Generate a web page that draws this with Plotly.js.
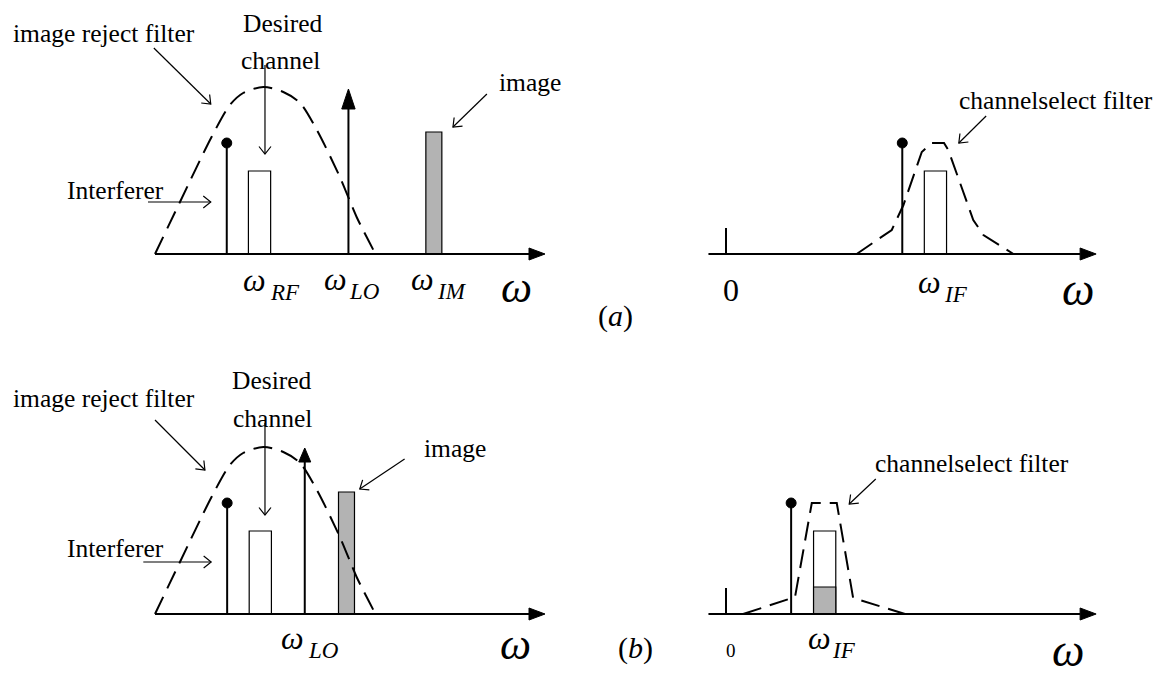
<!DOCTYPE html>
<html><head><meta charset="utf-8">
<script src="https://cdn.plot.ly/plotly-3.0.1.min.js"></script>
<style>html,body{margin:0;padding:0;background:#fff}#chart{width:1163px;height:684px}</style>
</head><body><div id="chart"></div>
<script>
// ---------------- data (arbitrary frequency / amplitude units) ----------------
const rfToneNames = ['Interferer', 'Desired channel', 'LO', 'image'];
const rfToneFreqA = [1.84, 2.68, 4.96, 7.15];
const rfToneAmpA  = [1.11, 0.83, 1.65, 1.22];
const rfToneFreqB = [1.85, 2.70, 3.84, 4.91];
const rfToneAmpB  = [1.11, 0.83, 1.66, 1.22];
const ifToneNames = ['DC', 'Interferer', 'Desired channel'];
const ifToneFreqA = [0, 4.52, 5.37];
const ifToneAmpA  = [0.26, 1.11, 0.83];
const ifToneFreqB = [0, 1.67, 2.53];
const ifToneAmpB  = [0.26, 1.11, 0.83];
const ifImageResidueB = 0.27;
const channelBandwidth = 0.57;
const imageBandwidth = 0.41;
const rejectFilterFreq = [0, 0.64, 1.45, 1.92, 2.26, 2.78, 3.29, 3.72, 4.15, 4.74, 5.17, 5.60];
const rejectFilterGain = [0, 0.52, 1.17, 1.49, 1.61, 1.67, 1.62, 1.51, 1.24, 0.77, 0.37, 0.04];
const selectFilterFreqA = [3.35, 4.25, 4.55, 5.02, 5.27, 5.59, 5.70, 6.34, 6.60, 7.37];
const selectFilterGainA = [0, 0.24, 0.49, 1.02, 1.11, 1.11, 1.04, 0.34, 0.19, 0];
const selectFilterFreqB = [0.44, 1.77, 2.20, 2.84, 3.26, 4.59];
const selectFilterGainB = [0, 0.17, 1.11, 1.11, 0.16, 0];
const rfAxisSpan = [0, 10];
const ifAxisSpan = [-0.45, 9.49];

// ---------------- layout helpers ----------------
const W = 1163, H = 684, KX = 39, KY = 100;
const SERIF = 'Liberation Serif, Times New Roman, serif';
const GRAY = '#b3b3b3';
const panels = [
  {id: '',  ox: 155, oy: 254, px: [0, 580],   py: [0, 342]},
  {id: '2', ox: 726, oy: 254, px: [580, 1163], py: [0, 342]},
  {id: '3', ox: 155, oy: 614, px: [0, 580],   py: [342, 684]},
  {id: '4', ox: 726, oy: 614, px: [580, 1163], py: [342, 684]}
];
const layout = {
  width: W, height: H, margin: {l: 0, r: 0, t: 0, b: 0},
  paper_bgcolor: '#fff', plot_bgcolor: 'rgba(0,0,0,0)',
  showlegend: false, barmode: 'overlay', shapes: [], annotations: []
};
panels.forEach(p => {
  layout['xaxis' + p.id] = {domain: [p.px[0] / W, p.px[1] / W], range: [(p.px[0] - p.ox) / KX, (p.px[1] - p.ox) / KX],
    visible: false, fixedrange: true, anchor: 'y' + p.id};
  layout['yaxis' + p.id] = {domain: [1 - p.py[1] / H, 1 - p.py[0] / H], range: [(p.oy - p.py[1]) / KY, (p.oy - p.py[0]) / KY],
    visible: false, fixedrange: true, anchor: 'x' + p.id};
});
const traces = [];
function ref(id) { return {xref: 'x' + id, yref: 'y' + id}; }
function line(id, x0, y0, x1, y1, w) {
  layout.shapes.push(Object.assign({type: 'line', x0, y0, x1, y1, line: {color: 'black', width: w}}, ref(id)));
}
function head(id, x0, y0, x1, y1, len, hw, filled, w) {
  const dx = (x1 - x0) * KX, dy = (y1 - y0) * KY, L = Math.hypot(dx, dy);
  const ux = dx / L, uy = dy / L;
  const bx = x1 - len * ux / KX, by = y1 - len * uy / KY;
  const p1x = bx - hw * uy / KX, p1y = by + hw * ux / KY;
  const p2x = bx + hw * uy / KX, p2y = by - hw * ux / KY;
  layout.shapes.push(Object.assign({type: 'path',
    path: `M${p1x},${p1y} L${x1},${y1} L${p2x},${p2y}` + (filled ? ' Z' : ''),
    line: {color: 'black', width: w || 1.2}, fillcolor: filled ? 'black' : 'rgba(0,0,0,0)'}, ref(id)));
  return [bx, by];
}
function arrow(id, x0, y0, x1, y1) { line(id, x0, y0, x1, y1, 1.2); head(id, x0, y0, x1, y1, 7.5, 6, false, 1.2); }
function txt(id, x, y, text, size, xanchor) {
  layout.annotations.push(Object.assign({x, y, text, showarrow: false, xanchor: xanchor || 'center', yanchor: 'middle',
    font: {family: SERIF, size: size, color: 'black'}}, ref(id)));
}
function freqAxis(id, span) {
  const b = head(id, span[0], 0, span[1], 0, 16, 6, true, 1);
  traces.push({type: 'scatter', mode: 'lines', x: [span[0], b[0]], y: [0, 0], xaxis: 'x' + id, yaxis: 'y' + id,
    line: {color: 'black', width: 2}, hoverinfo: 'skip'});
}
function stemDot(id, f, a) {
  traces.push({type: 'scatter', mode: 'lines', x: [f, f], y: [0, a], xaxis: 'x' + id, yaxis: 'y' + id,
    line: {color: 'black', width: 2}, hoverinfo: 'skip'});
  traces.push({type: 'scatter', mode: 'markers', x: [f], y: [a], xaxis: 'x' + id, yaxis: 'y' + id,
    marker: {color: '#000000', size: 10, opacity: 1, line: {color: '#000000', width: 1}}, hoverinfo: 'skip'});
}
function stem(id, f, a) {
  traces.push({type: 'scatter', mode: 'lines', x: [f, f], y: [0, a], xaxis: 'x' + id, yaxis: 'y' + id,
    line: {color: 'black', width: 2}, hoverinfo: 'skip'});
}
function loArrow(id, f, a, len, hw) {
  const b = head(id, f, 0, f, a, len, hw, true, 1);
  traces.push({type: 'scatter', mode: 'lines', x: [f, f], y: [0, b[1]], xaxis: 'x' + id, yaxis: 'y' + id,
    line: {color: 'black', width: 2}, hoverinfo: 'skip'});
}
function band(id, f, a, w, color, name) {
  traces.push({type: 'bar', x: [f], y: [a], width: [w], xaxis: 'x' + id, yaxis: 'y' + id, name: name,
    marker: {color: color, line: {color: 'black', width: 1.2}}, hoverinfo: 'skip'});
}
function filter(id, fx, fy, shape) {
  traces.push({type: 'scatter', mode: 'lines', x: fx, y: fy, xaxis: 'x' + id, yaxis: 'y' + id,
    line: {color: 'black', width: 2, dash: '19px,9px', shape: shape || 'linear', smoothing: 0.8}, hoverinfo: 'skip'});
}
function omega(id, x, y, sub, subDx) {
  txt(id, x, y, '<i>ω</i>', 32);
  txt(id, x + subDx, y - 0.12, '<i>' + sub + '</i>', 23, 'left');
}

// ---------------- spectra ----------------
['', '3'].forEach((id, k) => {
  const F = k === 0 ? rfToneFreqA : rfToneFreqB, A = k === 0 ? rfToneAmpA : rfToneAmpB;
  filter(id, rejectFilterFreq, rejectFilterGain, 'spline');
  freqAxis(id, rfAxisSpan);
  stemDot(id, F[0], A[0]);
  band(id, F[1], A[1], channelBandwidth, '#ffffff', rfToneNames[1]);
  loArrow(id, F[2], A[2], k === 0 ? 20 : 14, k === 0 ? 6.7 : 6);
  band(id, F[3], A[3], imageBandwidth, GRAY, rfToneNames[3]);
});
[['2', ifToneFreqA, ifToneAmpA, selectFilterFreqA, selectFilterGainA], ['4', ifToneFreqB, ifToneAmpB, selectFilterFreqB, selectFilterGainB]]
.forEach(([id, F, A, sx, sy]) => {
  filter(id, sx, sy);
  freqAxis(id, ifAxisSpan);
  stem(id, F[0], A[0]);
  stemDot(id, F[1], A[1]);
  band(id, F[2], A[2], channelBandwidth, '#ffffff', ifToneNames[2]);
});
band('4', ifToneFreqB[2], ifImageResidueB, channelBandwidth, GRAY, 'image residue');

// ---------------- labels ----------------
// top-left
txt('', -3.69, 2.21, 'image reject filter', 25.5, 'left');
arrow('', -0.03, 2.06, 1.43, 1.50);
txt('', 3.28, 2.31, 'Desired', 25.5);
txt('', 3.23, 1.94, 'channel', 25.5);
arrow('', 2.82, 1.89, 2.82, 1.00);
txt('', -2.32, 0.64, 'Interferer', 25.5, 'left');
arrow('', -0.18, 0.52, 1.43, 0.52);
txt('', 9.61, 1.72, 'image', 25.5);
arrow('', 8.51, 1.60, 7.64, 1.27);
omega('', 2.56, -0.26, 'RF', 0.33);
omega('', 4.62, -0.25, 'LO', 0.3);
omega('', 6.87, -0.25, 'IM', 0.3);
txt('', 9.28, -0.33, '<i>ω</i>', 44);
// top-right
txt('2', 0.13, -0.36, '0', 32);
omega('2', 5.22, -0.28, 'IF', 0.32);
txt('2', 9.03, -0.35, '<i>ω</i>', 46);
txt('2', 5.92, 1.54, 'channelselect filter', 25.5, 'left');
arrow('2', 6.67, 1.38, 5.97, 1.11);
// bottom-left
txt('3', -3.69, 2.16, 'image reject filter', 25.5, 'left');
arrow('3', 0, 1.94, 1.28, 1.44);
txt('3', 3.0, 2.34, 'Desired', 25.5);
txt('3', 3.0, 1.96, 'channel', 25.5);
arrow('3', 2.82, 1.91, 2.82, 0.99);
txt('3', -2.32, 0.66, 'Interferer', 25.5, 'left');
arrow('3', -0.30, 0.52, 1.44, 0.52);
txt('3', 7.68, 1.66, 'image', 25.5);
arrow('3', 6.40, 1.55, 5.25, 1.25);
omega('3', 3.53, -0.24, 'LO', 0.34);
txt('3', 9.25, -0.30, '<i>ω</i>', 44);
// bottom-right
txt('4', 0.13, -0.36, '0', 19);
omega('4', 2.40, -0.24, 'IF', 0.27);
txt('4', 8.77, -0.36, '<i>ω</i>', 46);
txt('4', 3.78, 1.51, 'channelselect filter', 25.5, 'left');
arrow('4', 3.84, 1.35, 3.16, 1.10);
// panel tags
layout.annotations.push({xref: 'paper', yref: 'paper', x: 615 / W, y: 1 - 316 / H, text: '(<i>a</i>)', showarrow: false,
  font: {family: SERIF, size: 30, color: 'black'}});
layout.annotations.push({xref: 'paper', yref: 'paper', x: 635 / W, y: 1 - 667 / H, text: '(<i>b</i>)', showarrow: false,
  font: {family: SERIF, size: 30, color: 'black'}});

Plotly.newPlot('chart', traces, layout, {staticPlot: true, displayModeBar: false});
</script></body></html>
